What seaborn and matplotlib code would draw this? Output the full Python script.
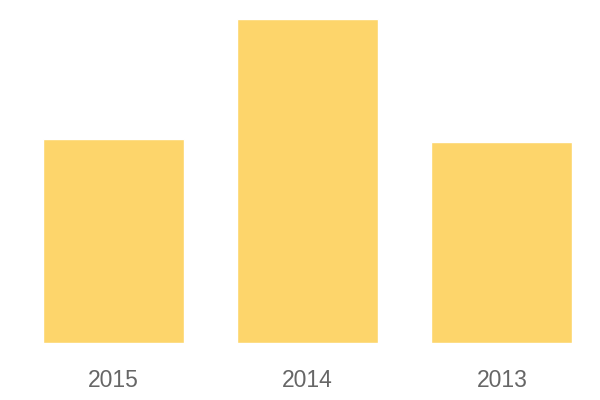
import matplotlib
matplotlib.use("Agg")
import matplotlib.pyplot as plt
import seaborn as sns
import pandas as pd

categories = ["2015", "2014", "2013"]
values = [204, 324, 201]

sns.set_style("white")
plt.rcParams['font.family'] = ['Liberation Sans', 'DejaVu Sans']

df = pd.DataFrame({"year": categories, "value": values})
fig = plt.figure(figsize=(6, 4), dpi=100)
ax = fig.add_axes([16/600, 57/400, 583/600, 324/400])
sns.barplot(data=df, x="year", y="value", color="#FDD56B", saturation=1, width=0.725, ax=ax)
ax.set_ylim(0, 324)
ax.set_xlim(-0.5, 2.5)
ax.set_xlabel("")
ax.set_ylabel("")
ax.set_yticks([])
for s in ax.spines.values():
    s.set_visible(False)
ax.tick_params(axis="x", length=0, pad=19, labelsize=16.5, labelcolor="#666666")
fig.savefig("out.png", dpi=100)
